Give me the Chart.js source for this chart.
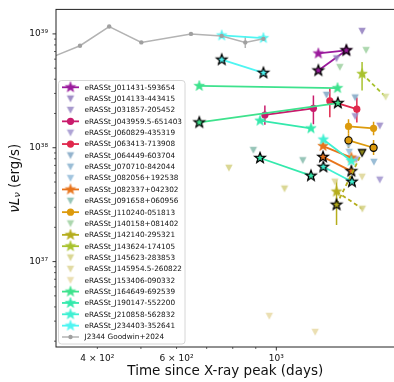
<!DOCTYPE html>
<html>
<head>
<meta charset="utf-8">
<script src="https://cdn.jsdelivr.net/npm/chart.js@4.4.1/dist/chart.umd.min.js"></script>
<style>
  html, body { margin: 0; padding: 0; background: #fff; overflow: hidden; }
  #wrap { width: 400px; height: 382px; }
</style>
</head>
<body>
<div id="wrap"><canvas id="lc"></canvas></div>
<script>
// legend order, colours and marker kinds
const sourceNames = [
  'eRASSt_J011431-593654', 'eRASSt_J014133-443415', 'eRASSt_J031857-205452',
  'eRASSt_J043959.5-651403', 'eRASSt_J060829-435319', 'eRASSt_J063413-713908',
  'eRASSt_J064449-603704', 'eRASSt_J070710-842044', 'eRASSt_J082056+192538',
  'eRASSt_J082337+042302', 'eRASSt_J091658+060956', 'eRASSt_J110240-051813',
  'eRASSt_J140158+081402', 'eRASSt_J142140-295321', 'eRASSt_J143624-174105',
  'eRASSt_J145623-283853', 'eRASSt_J145954.5-260822', 'eRASSt_J153406-090332',
  'eRASSt_J164649-692539', 'eRASSt_J190147-552200', 'eRASSt_J210858-562832',
  'eRASSt_J234403-352641', 'J2344 Goodwin+2024'
];
const sourceColors = [
  '#9a1a9c', '#9683c1', '#9f8fc9', '#c91b6c', '#a599d0', '#e0284c',
  '#87abc8', '#8fb6d2', '#98bfdc', '#e8741c', '#8cbfb0', '#dc9a0c',
  '#a3d3a5', '#b5ad1c', '#a8c22e', '#d6d388', '#dfd79a', '#e9dcaa',
  '#3ee28d', '#34e9ac', '#3ff0d2', '#4ff5f2', '#b3b3b3'
];
const sourceMarkers = [
  'star', 'tri', 'tri', 'circle', 'tri', 'circle', 'tri', 'tri', 'tri',
  'star', 'tri', 'circle', 'tri', 'star', 'star', 'tri', 'tri', 'tri',
  'star', 'star', 'star', 'star', 'dot'
];

// [days, nuLnu] or [days, nuLnu, lower, upper]; "Edge" = black-edged markers
const j011431 = [[1240, 6.73e38], [1431, 7.17e38]];
const j011431Edge = [[1240, 4.77e38], [1431, 7.17e38]];
const j014133Lim = [[1361, 6.09e38], [1551, 1.06e39]];
const j031857Lim = [[1497, 1.89e38], [1698, 1.56e38]];
const j043959 = [[943, 1.94e38, 1.59e38, 2.35e38], [1209, 2.22e38, 1.61e38, 2.87e38]];
const j060829Lim = [[1505, 7.89e37], [1698, 5.24e37]];
const j063413 = [[1315, 2.58e38, 1.85e38, 3.33e38], [1510, 2.18e38, 1.67e38, 2.76e38]];
const j064449Lim = [[1293, 2.91e38], [1497, 2.76e38]];
const j070710Lim = [[1447, 1.055e38], [1648, 7.51e37]];
const j082056Lim = [[1452, 9.18e37]];
const j082337 = [[1270, 1.035e38], [1468, 8.19e37]];
const j082337Edge = [[1270, 8.31e37], [1468, 6.23e37]];
const j091658Lim = [[889, 9.55e37], [1145, 7.76e37]];
const j110240 = [[1447, 1.54e38, 1.34e38, 1.78e38], [1645, 1.48e38, 1.29e38, 1.69e38]];
const j110240Edge = [[1447, 1.16e38, 9.94e37, 1.34e38], [1645, 1.0e38, 8.65e37, 1.17e38]];
const j140158Lim = [[1384, 5.11e38], [1583, 7.21e38]];
const j142140 = [[1361, 4.12e37, 2.1e37, 5.2e37], [1553, 2.91e37]];
const j142140Edge = [[1361, 3.16e37], [1551, 9.06e37]];
const j143624 = [[1551, 4.46e38, 3.18e38, 5.67e38], [1750, 2.80e38]];
const j145623Lim = [[784.5, 6.66e37], [1043, 4.37e37]];
const j145954Lim = [[1349, 5.03e37], [1551, 5.56e37]];
const j153406Lim = [[964.5, 3.33e36], [1220, 2.41e36]];
const j164649 = [[674, 3.49e38], [1368, 3.34e38]];
const j164649Edge = [[674, 1.67e38], [1370, 2.47e38]];
const j190147 = [[920, 1.73e38], [1194, 1.48e38]];
const j190147Edge = [[920, 8.13e37], [1194, 5.68e37]];
const j210858 = [[1272, 1.18e38], [1468, 7.66e37]];
const j210858Edge = [[1272, 6.80e37], [1473, 5.03e37]];
const j234403 = [[756, 9.69e38], [936, 9.18e38]];
const j234403Edge = [[756, 5.94e38], [936, 4.55e38]];
const goodwin = [[290, 5.42e38], [366, 7.87e38], [425, 1.16e39], [501, 8.42e38],
  [646, 1.0e39], [756, 9.6e38], [853, 8.42e38, 7.5e38, 9.55e38], [936, 9.05e38]];

// axes
const xTickValues = [400, 600, 1000];
const xTickLabels = ['4 × 10²', '6 × 10²', '10³'];
const yTickValues = [1e37, 1e38, 1e39];
const yTickLabels = ['10³⁷', '10³⁸', '10³⁹'];
const xRange = [323.7, 1832];
const yRange = [1.778e36, 1.641e39];

// filled five point star, optionally with a black edge
function star(fill, edge) {
  const r = 5.5, size = 16;
  const c = document.createElement('canvas');
  c.width = c.height = size;
  const g = c.getContext('2d');
  g.beginPath();
  for (let i = 0; i < 10; i++) {
    const rr = i % 2 ? r * 0.42 : r;
    const a = -Math.PI / 2 + i * Math.PI / 5;
    g.lineTo(size / 2 + rr * Math.cos(a), size / 2 + rr * Math.sin(a));
  }
  g.closePath();
  g.fillStyle = fill;
  g.fill();
  g.lineWidth = edge ? 1.3 : 0.6;
  g.strokeStyle = edge || fill;
  g.stroke();
  return c;
}

// downward triangle (upper limit)
function triDown(fill, edge) {
  const r = 3.7, size = 12;
  const c = document.createElement('canvas');
  c.width = c.height = size;
  const g = c.getContext('2d');
  const m = size / 2;
  g.beginPath();
  g.moveTo(m, m + r);
  g.lineTo(m - r, m - r * 0.85);
  g.lineTo(m + r, m - r * 0.85);
  g.closePath();
  g.globalAlpha = edge ? 1 : 0.9;
  g.fillStyle = fill;
  g.fill();
  if (edge) { g.lineWidth = 1.1; g.strokeStyle = edge; g.stroke(); }
  return c;
}

const datasets = [];
function addSeries(points, color, style, extra) {
  datasets.push(Object.assign({
    data: points.map(p => ({ x: p[0], y: p[1], lo: p[2], hi: p[3] })),
    borderColor: color,
    backgroundColor: color,
    pointStyle: style,
    pointRadius: 3.6,
    pointHoverRadius: 3.6,
    borderWidth: 1.8,
    showLine: true,
    order: -datasets.length
  }, extra || {}));
}
function addLimits(points, color) {
  addSeries(points, color, triDown(color), { showLine: false });
}

const C = sourceColors;
addSeries(j011431, C[0], star(C[0]));
addSeries(j011431Edge, C[0], star(C[0], '#000'));
addLimits(j014133Lim, C[1]);
addLimits(j031857Lim, C[2]);
addSeries(j043959, C[3], 'circle', { pointBorderWidth: 0 });
addLimits(j060829Lim, C[4]);
addSeries(j063413, C[5], 'circle', { pointBorderWidth: 0 });
addLimits(j064449Lim, C[6]);
addLimits(j070710Lim, C[7]);
addLimits(j082056Lim, C[8]);
addSeries(j082337, C[9], star(C[9]));
addSeries(j082337Edge, C[9], star(C[9], '#000'));
addLimits(j091658Lim, C[10]);
addSeries(j110240, C[11], 'circle', { pointBorderWidth: 0 });
addSeries(j110240Edge, C[11], 'circle', { pointBorderColor: '#000', pointBorderWidth: 1.1 });
addLimits(j140158Lim, C[12]);
addSeries(j142140, C[13], [star(C[13]), triDown(C[15])], { borderDash: [4, 3] });
addSeries(j142140Edge, C[13], [star(C[13], '#000'), triDown('#8a8418', '#000')], { borderDash: [4, 3] });
addSeries(j143624, C[14], [star(C[14]), triDown('#d9e0a0')], { borderDash: [4, 3] });
addLimits(j145623Lim, C[15]);
addLimits(j145954Lim, C[16]);
addLimits(j153406Lim, C[17]);
addSeries(j164649, C[18], star(C[18]));
addSeries(j164649Edge, C[18], star(C[18], '#000'));
addSeries(j190147, C[19], star(C[19]));
addSeries(j190147Edge, C[19], star(C[19], '#000'));
addSeries(j210858, C[20], star(C[20]));
addSeries(j210858Edge, C[20], star(C[20], '#000'));
addSeries(j234403, C[21], star(C[21]));
addSeries(j234403Edge, C[21], star(C[21], '#000'));
addSeries(goodwin, '#a0a0a0', 'circle', { borderColor: C[22], pointRadius: 2.2, borderWidth: 1.5, pointBorderWidth: 0 });

const FONT = '"DejaVu Sans", sans-serif';

function drawTickMarks(ctx, scale, values, len, width, horizontal, area) {
  ctx.lineWidth = width;
  ctx.strokeStyle = '#222';
  ctx.beginPath();
  values.forEach(v => {
    const p = scale.getPixelForValue(v);
    if (horizontal) {
      if (p < area.left - 0.5 || p > area.right) return;
      ctx.moveTo(p, area.bottom);
      ctx.lineTo(p, area.bottom + len);
    } else {
      if (p < area.top || p > area.bottom + 0.5) return;
      ctx.moveTo(area.left, p);
      ctx.lineTo(area.left - len, p);
    }
  });
  ctx.stroke();
}

const decor = {
  id: 'decor',
  beforeDatasetsDraw(chart) {
    // vertical error bars
    const ctx = chart.ctx, area = chart.chartArea;
    const xs = chart.scales.x, ys = chart.scales.y;
    ctx.save();
    ctx.beginPath();
    ctx.rect(area.left, area.top, area.right - area.left, area.bottom - area.top);
    ctx.clip();
    chart.data.datasets.forEach(ds => {
      ds.data.forEach(p => {
        if (p.lo === undefined) return;
        const x = xs.getPixelForValue(p.x);
        ctx.strokeStyle = ds.borderColor;
        ctx.lineWidth = 1.5;
        ctx.beginPath();
        ctx.moveTo(x, ys.getPixelForValue(p.lo));
        ctx.lineTo(x, ys.getPixelForValue(p.hi));
        ctx.stroke();
      });
    });
    ctx.restore();
  },
  afterDraw(chart) {
    const ctx = chart.ctx, area = chart.chartArea;
    const xs = chart.scales.x, ys = chart.scales.y;
    ctx.save();

    // frame
    ctx.strokeStyle = '#222';
    ctx.lineWidth = 1;
    ctx.strokeRect(area.left, area.top, area.right - area.left, area.bottom - area.top);

    // tick marks
    drawTickMarks(ctx, xs, [1000], 3.5, 0.9, true, area);
    drawTickMarks(ctx, xs, [400, 500, 600, 700, 800, 900], 2, 0.7, true, area);
    drawTickMarks(ctx, ys, yTickValues, 3.5, 0.9, false, area);
    const yMinor = [];
    for (let d = 36; d <= 38; d++) for (let k = 2; k <= 9; k++) yMinor.push(k * Math.pow(10, d));
    drawTickMarks(ctx, ys, yMinor, 2, 0.7, false, area);

    // axis titles
    ctx.fillStyle = '#111';
    ctx.textBaseline = 'middle';
    ctx.textAlign = 'center';
    ctx.font = '13.5px ' + FONT;
    ctx.fillText('Time since X-ray peak (days)', (area.left + area.right) / 2, 371);

    ctx.save();
    ctx.translate(15, (area.top + area.bottom) / 2);
    ctx.rotate(-Math.PI / 2);
    const parts = [
      ['ν', 'italic 13.5px ' + FONT, 0],
      ['L', 'italic 13.5px ' + FONT, 0],
      ['ν', 'italic 9.5px ' + FONT, 3],
      [' (erg/s)', '13.5px ' + FONT, 0]
    ];
    let total = 0;
    parts.forEach(p => { ctx.font = p[1]; total += ctx.measureText(p[0]).width; });
    let px = -total / 2;
    ctx.textAlign = 'left';
    parts.forEach(p => {
      ctx.font = p[1];
      ctx.fillText(p[0], px, p[2]);
      px += ctx.measureText(p[0]).width;
    });
    ctx.restore();

    // legend
    ctx.beginPath();
    ctx.roundRect(58.5, 80.5, 126.5, 263.5, 3);
    ctx.fillStyle = 'rgba(255,255,255,0.85)';
    ctx.fill();
    ctx.strokeStyle = '#cccccc';
    ctx.lineWidth = 0.8;
    ctx.stroke();
    ctx.font = '7.3px ' + FONT;
    ctx.textAlign = 'left';
    ctx.textBaseline = 'middle';
    sourceNames.forEach((name, i) => {
      const y = 87.3 + i * 11.35;
      const col = sourceColors[i];
      const kind = sourceMarkers[i];
      if (kind !== 'tri') {
        ctx.strokeStyle = col;
        ctx.lineWidth = kind === 'dot' ? 1.5 : 1.8;
        ctx.beginPath();
        ctx.moveTo(62, y);
        ctx.lineTo(79, y);
        ctx.stroke();
      }
      if (kind === 'star' || kind === 'tri') {
        const img = kind === 'star' ? star(col) : triDown(col);
        ctx.drawImage(img, 70.5 - img.width / 2, y - img.height / 2);
      } else {
        ctx.fillStyle = kind === 'dot' ? '#a0a0a0' : col;
        ctx.beginPath();
        ctx.arc(70.5, y, kind === 'dot' ? 2.2 : 3.6, 0, Math.PI * 2);
        ctx.fill();
      }
      ctx.fillStyle = '#111';
      ctx.fillText(name, 84.5, y + 0.5);
    });
    ctx.restore();
  }
};

new Chart(document.getElementById('lc'), {
  type: 'scatter',
  data: { datasets: datasets },
  options: {
    responsive: true,
    maintainAspectRatio: false,
    animation: false,
    events: [],
    layout: { padding: { top: 6, left: 0, right: 0, bottom: 0 } },
    plugins: { legend: { display: false }, tooltip: { enabled: false } },
    scales: {
      x: {
        type: 'logarithmic',
        min: xRange[0],
        max: xRange[1],
        afterFit: s => { s.height = 35; },
        afterBuildTicks: s => { s.ticks = xTickValues.map(v => ({ value: v })); },
        grid: { drawOnChartArea: false, tickLength: 4, tickColor: 'rgba(0,0,0,0)' },
        border: { display: false },
        ticks: {
          autoSkip: false, maxRotation: 0, padding: 2,
          color: '#111', font: { family: 'DejaVu Sans', size: 9 },
          callback: v => xTickLabels[xTickValues.indexOf(v)]
        }
      },
      y: {
        type: 'logarithmic',
        min: yRange[0],
        max: yRange[1],
        afterFit: s => { s.width = 56; },
        afterBuildTicks: s => { s.ticks = yTickValues.map(v => ({ value: v })); },
        grid: { drawOnChartArea: false, tickLength: 4, tickColor: 'rgba(0,0,0,0)' },
        border: { display: false },
        ticks: {
          autoSkip: false, padding: 4,
          color: '#111', font: { family: 'DejaVu Sans', size: 9 },
          callback: v => yTickLabels[yTickValues.indexOf(v)]
        }
      }
    }
  },
  plugins: [decor]
});
</script>
</body>
</html>
